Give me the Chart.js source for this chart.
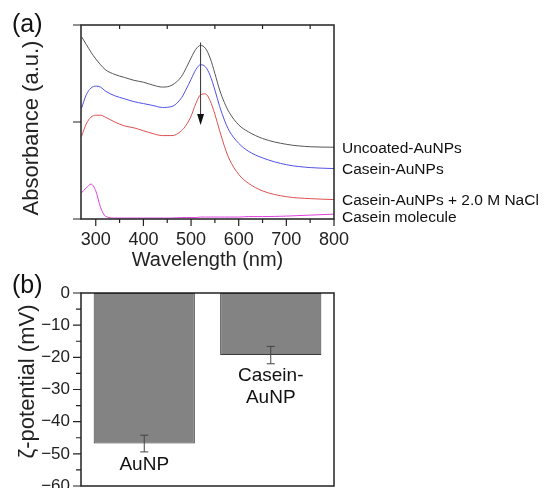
<!DOCTYPE html>
<html>
<head>
<meta charset="utf-8">
<script src="https://cdn.jsdelivr.net/npm/chart.js@4/dist/chart.umd.min.js"></script>
<style>
  html, body { margin: 0; padding: 0; background: #fff; overflow: hidden; }
  #wrapA { position: absolute; left: 0; top: 0; width: 546px; height: 272px; }
  #wrapB { position: absolute; left: 0; top: 265px; width: 546px; height: 240px; }
</style>
</head>
<body>
<div id="wrapA"><canvas id="spectra" width="546" height="272"></canvas></div>
<div id="wrapB"><canvas id="zeta" width="546" height="240"></canvas></div>
<script>
// (a) UV-vis spectra
const wavelength = [270, 280, 290, 300, 310, 320, 340, 360, 380, 400, 420, 440, 460, 480, 490, 500, 510, 520, 530, 540, 550, 560, 570, 580, 600, 620, 650, 700, 750, 800];
const uncoated   = [1.88, 1.80, 1.72, 1.65, 1.59, 1.54, 1.49, 1.46, 1.43, 1.41, 1.38, 1.36, 1.38, 1.47, 1.56, 1.66, 1.75, 1.79, 1.76, 1.66, 1.50, 1.33, 1.20, 1.10, 0.97, 0.90, 0.83, 0.77, 0.745, 0.74];
const caseinAu   = [1.14, 1.28, 1.35, 1.37, 1.36, 1.32, 1.27, 1.24, 1.21, 1.19, 1.17, 1.15, 1.16, 1.25, 1.34, 1.44, 1.54, 1.59, 1.57, 1.48, 1.33, 1.16, 1.02, 0.91, 0.78, 0.70, 0.63, 0.56, 0.53, 0.52];
const caseinNaCl = [0.85, 0.98, 1.05, 1.07, 1.07, 1.05, 1.00, 0.96, 0.94, 0.91, 0.88, 0.86, 0.86, 0.91, 0.97, 1.06, 1.19, 1.28, 1.29, 1.22, 1.08, 0.91, 0.75, 0.62, 0.46, 0.37, 0.29, 0.23, 0.21, 0.20];
const caseinMol  = [0.27, 0.32, 0.36, 0.29, 0.12, 0.03, 0.01, 0.01, 0.01, 0.01, 0.01, 0.01, 0.01, 0.015, 0.015, 0.015, 0.015, 0.02, 0.02, 0.02, 0.02, 0.02, 0.02, 0.02, 0.02, 0.025, 0.025, 0.03, 0.04, 0.05];
const seriesNames = ['Uncoated-AuNPs', 'Casein-AuNPs', 'Casein-AuNPs + 2.0 M NaCl', 'Casein molecule'];
const xTicks = [300, 400, 500, 600, 700, 800];
const arrowAt = 520, arrowFrom = 1.82, arrowTo = 0.97;

// (b) zeta potential
const zetaLabels = [['AuNP'], ['Casein-', 'AuNP']];
const zetaValues = [-46.8, -19.3];
const zetaErrors = [2.6, 2.7];

const FONT = '"Liberation Sans", Arial, sans-serif';
Chart.defaults.font.family = FONT;
Chart.defaults.color = '#222';

function pts(ys) {
    return wavelength.map((w, i) => ({ x: w, y: ys[i] }));
}

function verticalTitle(ctx, text, x, y, size) {
    ctx.save();
    ctx.translate(x, y);
    ctx.rotate(-Math.PI / 2);
    ctx.font = size + 'px ' + FONT;
    ctx.fillStyle = '#222';
    ctx.textAlign = 'center';
    ctx.textBaseline = 'middle';
    ctx.fillText(text, 0, 0);
    ctx.restore();
}

const frameA = {
    id: 'frameA',
    afterDraw(chart) {
        const ctx = chart.ctx, a = chart.chartArea;
        const xs = chart.scales.x, ys = chart.scales.y;
        ctx.save();
        ctx.strokeStyle = '#222';
        ctx.lineWidth = 1.5;
        ctx.strokeRect(a.left, a.top, a.right - a.left, a.bottom - a.top);
        ctx.lineWidth = 1.2;
        ctx.beginPath();
        for (let v = 300; v <= 800; v += 50) {
            const px = xs.getPixelForValue(v);
            const len = v % 100 === 0 ? 7 : 4;
            ctx.moveTo(px, a.bottom);
            ctx.lineTo(px, a.bottom + len);
            if (v % 100 !== 0) {
                ctx.moveTo(px, a.top);
                ctx.lineTo(px, a.top + 4);
            }
        }
        [0, 1, 2].forEach(v => {
            const py = ys.getPixelForValue(v);
            ctx.moveTo(a.left - 8, py);
            ctx.lineTo(a.left, py);
        });
        ctx.stroke();

        // arrow
        const ax = xs.getPixelForValue(arrowAt);
        const y1 = ys.getPixelForValue(arrowFrom), y2 = ys.getPixelForValue(arrowTo);
        ctx.strokeStyle = '#333';
        ctx.lineWidth = 1;
        ctx.beginPath();
        ctx.moveTo(ax, y1);
        ctx.lineTo(ax, y2 - 8);
        ctx.stroke();
        ctx.fillStyle = '#111';
        ctx.beginPath();
        ctx.moveTo(ax, y2);
        ctx.lineTo(ax - 3.5, y2 - 11);
        ctx.lineTo(ax + 3.5, y2 - 11);
        ctx.closePath();
        ctx.fill();

        // series names at the right end of each curve
        ctx.fillStyle = '#111';
        ctx.font = '15.5px ' + FONT;
        ctx.textAlign = 'left';
        ctx.textBaseline = 'middle';
        let prev = -100;
        chart.data.datasets.forEach((ds, i) => {
            const last = ds.data[ds.data.length - 1];
            let py = ys.getPixelForValue(last.y);
            if (py < prev + 17) py = prev + 17;
            prev = py;
            ctx.fillText(seriesNames[i], a.right + 8, py + 1);
        });

        ctx.font = '25px ' + FONT;
        ctx.fillText('(a)', 12, 25);
        ctx.restore();

        verticalTitle(ctx, 'Absorbance (a.u.)', 32, (a.top + a.bottom) / 2 + 6, 22);
    }
};

new Chart(document.getElementById('spectra'), {
    type: 'line',
    data: {
        datasets: [
            { label: seriesNames[0], data: pts(uncoated), borderColor: '#555555' },
            { label: seriesNames[1], data: pts(caseinAu), borderColor: '#5050e8' },
            { label: seriesNames[2], data: pts(caseinNaCl), borderColor: '#e05050' },
            { label: seriesNames[3], data: pts(caseinMol), borderColor: '#e040e0' }
        ]
    },
    options: {
        responsive: false,
        animation: false,
        layout: { padding: { left: 0, right: 212, top: 25, bottom: 0 } },
        elements: {
            line: { borderWidth: 1, cubicInterpolationMode: 'monotone' },
            point: { radius: 0 }
        },
        plugins: { legend: { display: false }, tooltip: { enabled: false } },
        scales: {
            x: {
                type: 'linear',
                min: 269,
                max: 800,
                grid: { display: false, drawTicks: false },
                border: { display: false },
                afterBuildTicks: s => { s.ticks = xTicks.map(v => ({ value: v })); },
                afterFit: s => { s.height = 53; },
                ticks: { font: { size: 18 }, padding: 10, maxRotation: 0 },
                title: { display: true, text: 'Wavelength (nm)', font: { size: 20 }, padding: { top: 0, bottom: 0 } }
            },
            y: {
                min: 0,
                max: 2,
                grid: { display: false, drawTicks: false },
                border: { display: false },
                ticks: { display: false },
                afterFit: s => { s.width = 81; }
            }
        }
    },
    plugins: [frameA]
});

const frameB = {
    id: 'frameB',
    afterDraw(chart) {
        const ctx = chart.ctx, a = chart.chartArea;
        const ys = chart.scales.y;
        const meta = chart.getDatasetMeta(0);
        ctx.save();
        // error bars
        ctx.strokeStyle = '#444';
        ctx.lineWidth = 1;
        ctx.beginPath();
        meta.data.forEach((bar, i) => {
            const v = zetaValues[i], e = zetaErrors[i];
            const yt = ys.getPixelForValue(v + e), yb = ys.getPixelForValue(v - e);
            ctx.moveTo(bar.x, yt); ctx.lineTo(bar.x, yb);
            ctx.moveTo(bar.x - 4, yt); ctx.lineTo(bar.x + 4, yt);
            ctx.moveTo(bar.x - 4, yb); ctx.lineTo(bar.x + 4, yb);
        });
        ctx.stroke();

        // category names under each bar
        ctx.fillStyle = '#111';
        ctx.font = '19px ' + FONT;
        ctx.textAlign = 'center';
        ctx.textBaseline = 'middle';
        meta.data.forEach((bar, i) => {
            const y0 = ys.getPixelForValue(zetaValues[i]) + 21;
            zetaLabels[i].forEach((t, k) => ctx.fillText(t, bar.x, y0 + k * 22));
        });

        // frame and ticks
        ctx.strokeStyle = '#222';
        ctx.lineWidth = 1.5;
        ctx.strokeRect(a.left, a.top, a.right - a.left, a.bottom - a.top);
        ctx.lineWidth = 1.2;
        ctx.beginPath();
        for (let v = 0; v >= -60; v -= 5) {
            const py = ys.getPixelForValue(v);
            const len = v % 10 === 0 ? 8 : 5;
            ctx.moveTo(a.left - len, py);
            ctx.lineTo(a.left, py);
        }
        ctx.stroke();

        ctx.textAlign = 'left';
        ctx.font = '25px ' + FONT;
        ctx.fillText('(b)', 12, 21);
        ctx.restore();

        verticalTitle(ctx, 'ζ-potential (mV)', 28, (a.top + a.bottom) / 2 - 8, 22);
    }
};

new Chart(document.getElementById('zeta'), {
    type: 'bar',
    data: {
        labels: zetaLabels,
        datasets: [{
            label: 'ζ-potential',
            data: zetaValues,
            backgroundColor: '#838383',
            borderColor: '#3a3a3a',
            borderWidth: 1,
            borderSkipped: false,
            barPercentage: 0.8,
            categoryPercentage: 1.0
        }]
    },
    options: {
        responsive: false,
        animation: false,
        layout: { padding: { left: 0, right: 212, top: 28, bottom: 19 } },
        plugins: { legend: { display: false }, tooltip: { enabled: false } },
        scales: {
            x: { display: false },
            y: {
                min: -60,
                max: 0,
                grid: { display: false, drawTicks: false },
                border: { display: false },
                ticks: {
                    stepSize: 10,
                    font: { size: 17 },
                    padding: 11,
                    callback: v => v === 0 ? '0' : '\u2212' + Math.abs(v)
                },
                afterFit: s => { s.width = 81; s.paddingTop = 0; s.paddingBottom = 0; }
            }
        }
    },
    plugins: [frameB]
});
</script>
</body>
</html>
